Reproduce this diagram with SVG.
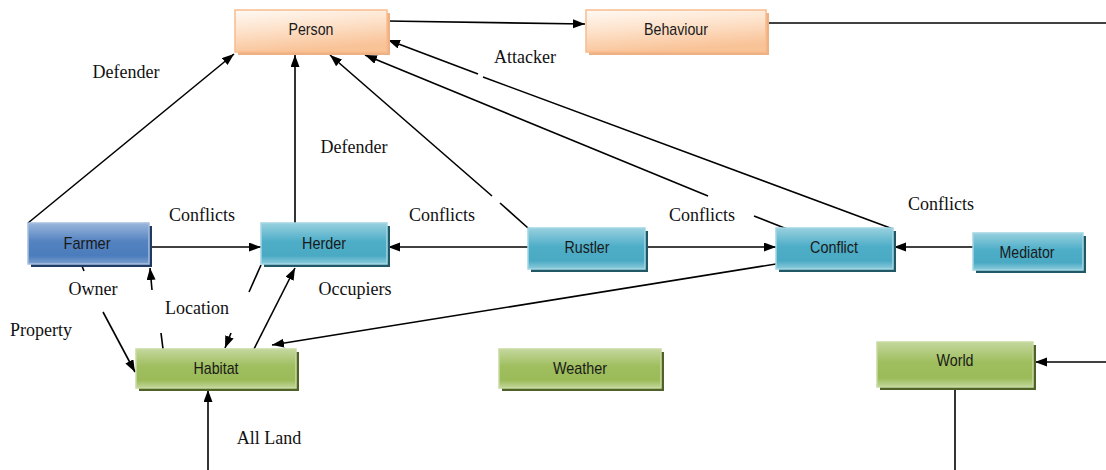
<svg xmlns="http://www.w3.org/2000/svg" width="1106" height="470" viewBox="0 0 1106 470">
<defs>
<linearGradient id="gOr" x1="0" y1="0" x2="0.3" y2="1">
<stop offset="0" stop-color="#fffaf5"/><stop offset="0.5" stop-color="#fde1c9"/><stop offset="1" stop-color="#f9c398"/>
</linearGradient>
<linearGradient id="gBl" x1="0" y1="0" x2="0" y2="1">
<stop offset="0" stop-color="#9ab6dc"/><stop offset="0.45" stop-color="#5483c0"/><stop offset="0.8" stop-color="#4b7cbb"/><stop offset="1" stop-color="#7da0d0"/>
</linearGradient>
<linearGradient id="gTe" x1="0" y1="0" x2="0" y2="1">
<stop offset="0" stop-color="#98d0df"/><stop offset="0.45" stop-color="#4eaec8"/><stop offset="0.8" stop-color="#4aaac4"/><stop offset="1" stop-color="#8dcbdc"/>
</linearGradient>
<linearGradient id="gGr" x1="0" y1="0" x2="0" y2="1">
<stop offset="0" stop-color="#c4d79e"/><stop offset="0.45" stop-color="#9fbe5e"/><stop offset="0.8" stop-color="#9bbb59"/><stop offset="1" stop-color="#c3d69b"/>
</linearGradient>
<marker id="ah" markerUnits="userSpaceOnUse" markerWidth="13" markerHeight="10" refX="12" refY="4.5" orient="auto">
<path d="M0,0 L12,4.5 L0,9 z" fill="#000"/>
</marker>
<style>
.lbl{font-family:"Liberation Serif","Times New Roman",serif;font-size:18px;fill:#111;text-anchor:middle}
.nt{font-family:"Liberation Sans",Arial,sans-serif;font-size:17px;fill:#1a1a1a;text-anchor:middle}
.c{fill:none;stroke:#000;stroke-width:1.6}
.or{fill:url(#gOr);stroke:#f8bc8e;stroke-width:1.5}
.orS{fill:#eeb184}
.bl{fill:url(#gBl);stroke:#a7bfe0;stroke-width:1.5}
.blS{fill:#1f3a63}
.te{fill:url(#gTe);stroke:#a3d6e4;stroke-width:1.5}
.teS{fill:#205867}
.gr{fill:url(#gGr);stroke:#c7da9f;stroke-width:1.5}
.grS{fill:#4f6228}
</style>
</defs>

<g id="connectors">
<path class="c" d="M387,21 L585,24" marker-end="url(#ah)"/>
<path class="c" d="M766,23 L1106,23"/>
<path class="c" d="M28,223 L234,54" marker-end="url(#ah)"/>
<path class="c" d="M295,223 L295,55" marker-end="url(#ah)"/>
<path class="c" d="M528,228 L500,203"/>
<path class="c" d="M492,196 L330,55" marker-end="url(#ah)"/>
<path class="c" d="M787,229 L754,216"/>
<path class="c" d="M708,196 L365,55" marker-end="url(#ah)"/>
<path class="c" d="M893,229 L483,77"/>
<path class="c" d="M478,74 L388,40" marker-end="url(#ah)"/>
<path class="c" d="M149,247 L261,247" marker-end="url(#ah)"/>
<path class="c" d="M528,247 L388,247" marker-end="url(#ah)"/>
<path class="c" d="M645,247 L776,247" marker-end="url(#ah)"/>
<path class="c" d="M973,247 L894,247" marker-end="url(#ah)"/>
<path class="c" d="M776,264 L272,345" marker-end="url(#ah)"/>
<path class="c" d="M254,349 L295,268" marker-end="url(#ah)"/>
<path class="c" d="M261,265 L249,292"/>
<path class="c" d="M231,333 L225,348" marker-end="url(#ah)"/>
<path class="c" d="M163,349 L161,333"/>
<path class="c" d="M152,290 L150,268" marker-end="url(#ah)"/>
<path class="c" d="M82,266 L84,271"/>
<path class="c" d="M103,312 L135,372" marker-end="url(#ah)"/>
<path class="c" d="M208,470 L208,390" marker-end="url(#ah)"/>
<path class="c" d="M1106,362 L1035,362" marker-end="url(#ah)"/>
<path class="c" d="M955,390 L955,470"/>
</g>

<g id="labels">
<text class="lbl" x="126" y="78">Defender</text>
<text class="lbl" x="354" y="153">Defender</text>
<text class="lbl" x="525" y="63">Attacker</text>
<text class="lbl" x="202" y="221">Conflicts</text>
<text class="lbl" x="442" y="221">Conflicts</text>
<text class="lbl" x="702" y="221">Conflicts</text>
<text class="lbl" x="941" y="210">Conflicts</text>
<text class="lbl" x="93" y="295">Owner</text>
<text class="lbl" x="41" y="336">Property</text>
<text class="lbl" x="197" y="314">Location</text>
<text class="lbl" x="355" y="295">Occupiers</text>
<text class="lbl" x="269" y="444">All Land</text>
</g>

<g id="node-person">
<rect class="orS" x="238" y="13" width="152" height="42"/>
<rect class="or" x="235" y="10" width="152" height="42"/>
<text class="nt" x="311" y="35" textLength="45" lengthAdjust="spacingAndGlyphs">Person</text>
</g>
<g id="node-behaviour">
<rect class="orS" x="589" y="13" width="180" height="42"/>
<rect class="or" x="586" y="10" width="180" height="42"/>
<text class="nt" x="676" y="35" textLength="64" lengthAdjust="spacingAndGlyphs">Behaviour</text>
</g>
<g id="node-farmer">
<rect class="blS" x="31" y="226" width="121" height="41"/>
<rect class="bl" x="28" y="223" width="121" height="41"/>
<text class="nt" x="87" y="249" textLength="47" lengthAdjust="spacingAndGlyphs">Farmer</text>
</g>
<g id="node-herder">
<rect class="teS" x="264" y="226" width="126" height="41"/>
<rect class="te" x="261" y="223" width="126" height="41"/>
<text class="nt" x="324" y="249" textLength="44" lengthAdjust="spacingAndGlyphs">Herder</text>
</g>
<g id="node-rustler">
<rect class="teS" x="531" y="231" width="117" height="41"/>
<rect class="te" x="528" y="228" width="117" height="41"/>
<text class="nt" x="587" y="253" textLength="45" lengthAdjust="spacingAndGlyphs">Rustler</text>
</g>
<g id="node-conflict">
<rect class="teS" x="779" y="231" width="117" height="41"/>
<rect class="te" x="776" y="228" width="117" height="41"/>
<text class="nt" x="834" y="253" textLength="48" lengthAdjust="spacingAndGlyphs">Conflict</text>
</g>
<g id="node-mediator">
<rect class="teS" x="976" y="236" width="110" height="37"/>
<rect class="te" x="973" y="233" width="110" height="37"/>
<text class="nt" x="1027" y="258" textLength="55" lengthAdjust="spacingAndGlyphs">Mediator</text>
</g>
<g id="node-habitat">
<rect class="grS" x="139" y="352" width="160" height="39"/>
<rect class="gr" x="136" y="349" width="160" height="39"/>
<text class="nt" x="216" y="374" textLength="45" lengthAdjust="spacingAndGlyphs">Habitat</text>
</g>
<g id="node-weather">
<rect class="grS" x="502" y="352" width="162" height="39"/>
<rect class="gr" x="499" y="349" width="162" height="39"/>
<text class="nt" x="580" y="374" textLength="54" lengthAdjust="spacingAndGlyphs">Weather</text>
</g>
<g id="node-world">
<rect class="grS" x="880" y="345" width="156" height="45"/>
<rect class="gr" x="877" y="342" width="156" height="45"/>
<text class="nt" x="955" y="366" textLength="37" lengthAdjust="spacingAndGlyphs">World</text>
</g>
</svg>
